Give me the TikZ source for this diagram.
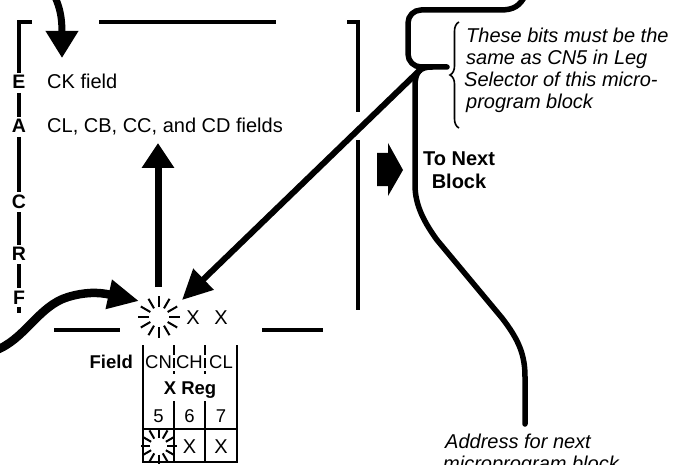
\documentclass[tikz,border=0pt]{standalone}
\usepackage{fontspec}
\setmainfont{Liberation Sans}
\usetikzlibrary{arrows.meta,decorations.pathreplacing}
\tikzset{
  frame/.style={line width=3.5pt},
  tblline/.style={line width=2pt},
  flow/.style={line width=5.5pt, line cap=round, line join=round},
  ray/.style={line width=2pt},
  txt/.style={font=\fontsize{20}{22}\selectfont, inner sep=0pt, anchor=base west},
  itxt/.style={font=\fontsize{20}{22}\selectfont\itshape, inner sep=0pt, anchor=base west},
  btxt/.style={font=\fontsize{20}{22}\selectfont\bfseries, inner sep=0pt, anchor=base},
  ltr/.style={font=\fontsize{19.5}{20}\selectfont\bfseries, inner sep=0pt, anchor=base},
  tbl/.style={font=\fontsize{18.5}{20}\selectfont, inner sep=0pt, anchor=base},
  tblb/.style={font=\fontsize{18.5}{20}\selectfont\bfseries, inner sep=0pt, anchor=base},
  xmark/.style={font=\fontsize{20}{20}\selectfont, inner sep=0pt, anchor=base},
}
\begin{document}
\begin{tikzpicture}[x=1pt,y=-1pt]
\useasboundingbox (0,0) rectangle (679,465);
\clip (0,0) rectangle (679,465);

% ---------- frame (dashed bracket box) ----------
\draw[frame] (32,22) -- (19,22) -- (19,73);
\draw[frame] (19,93) -- (19,117);
\draw[frame] (19,137) -- (19,192);
\draw[frame] (19,212) -- (19,245);
\draw[frame] (19,264) -- (19,288);
\draw[frame] (19,307) -- (19,313);
\draw[frame] (99,22) -- (276,22);
\draw[frame] (347,22) -- (358,22) -- (358,112);
\draw[frame] (358,140) -- (358,310);
\draw[frame] (54,330) -- (120,330);
\draw[frame] (262,330) -- (323,330);

% ---------- side letters ----------
\node[ltr] (lE) at (19,89) {E};
\node[ltr] (lA) at (19,133) {A};
\node[ltr] (lC) at (19,208) {C};
\node[ltr] (lR) at (19,260) {R};
\node[ltr] (lF) at (19,304) {F};

% ---------- texts inside ----------
\node[txt] (ck) at (47,89) {CK field};
\node[txt] (cl) at (47,133) {CL, CB, CC, and CD fields};

% ---------- arrows ----------
\coordinate (topstart) at (55,-3);
\coordinate (cktip) at (62,58);
\draw[line width=7pt, -{Triangle[length=27pt,width=31pt]}]
  (topstart) .. controls (60,8) and (62,18) .. (cktip);

\coordinate (upbase) at (158,287);
\coordinate (uptip) at (158,143);
\draw[line width=7pt, -{Triangle[length=25pt,width=31pt]}] (upbase) -- (uptip);

\coordinate (leftstart) at (-6,351);
\coordinate (lefttip) at (139,301);
\draw[line width=8.5pt, -{Triangle[length=31pt,width=28pt]}]
  (leftstart) .. controls (25,340) and (38,306) .. (68,297)
  .. controls (85,292) and (98,292) .. (lefttip);

\coordinate (junction) at (420,70);
\coordinate (diagtip) at (182,300);
\draw[line width=6pt, -{Triangle[length=30pt,width=28pt]}] (junction) -- (diagtip);

% ---------- burst and X X ----------
\coordinate (burst) at (159,317);
\foreach \a in {0,30,...,330} \draw[ray] (burst) ++(\a:10) -- ++(\a:11);
\node[xmark] (x1) at (193,324) {X};
\node[xmark] (x2) at (221,324) {X};

% ---------- X register table ----------
\draw[tblline] (143,345) -- (143,462) -- (237,462) -- (237,345);
\draw[tblline] (143,429) -- (237,429);
\draw[tblline] (174,401) -- (174,462);
\draw[tblline] (205,401) -- (205,462);
\draw[line width=1.5pt, dash pattern=on 10pt off 3pt] (174,345) -- (174,374);
\draw[line width=1.5pt, dash pattern=on 10pt off 3pt] (205,345) -- (205,374);
\node[tblb, anchor=base east] (field) at (133,368) {Field};
\node[tbl] (cn) at (158.5,368) {CN};
\node[tbl] (ch) at (189.5,368) {CH};
\node[tbl] (clf) at (221,368) {CL};
\node[tblb] (xreg) at (190,394) {X Reg};
\node[tbl] (b5) at (158.5,422) {5};
\node[tbl] (b6) at (189.5,422) {6};
\node[tbl] (b7) at (221,422) {7};
\coordinate (cellburst) at (158.5,446);
\foreach \a in {0,30,...,330} \draw[ray] (cellburst) ++(\a:8.5) -- ++(\a:9.5);
\node[xmark] (c6) at (189.5,453) {X};
\node[xmark] (c7) at (221,453) {X};

% ---------- right side flow line ----------
\draw[flow] (526,-6) .. controls (520,6) and (514,10) .. (500,10)
  [rounded corners=13pt] -- (408,10) -- (408,67) -- (447,67);
\draw[flow] (432,67) .. controls (420,67) and (415,72) .. (415,86)
  -- (415,185) .. controls (415,205) and (424,222) .. (437,240)
  -- (502,318) .. controls (519,340) and (525,355) .. (525,377)
  -- (525,424);

% brace and note
\draw[line width=1.6pt, decorate, decoration={brace, amplitude=9pt}] (459,128) -- (459,22);
\node[itxt] (n1) at (466,43) {These bits must be the};
\node[itxt] (n2) at (466,65) {same as CN5 in Leg};
\node[itxt] (n3) at (464,87) {Selector of this micro-};
\node[itxt] (n4) at (466,109) {program block};

% big block arrow
\fill (377,153) -- (388,153) -- (388,143) -- (403,170) -- (388,196) -- (388,186) -- (377,186) -- cycle;
\node[btxt] (tonext) at (459,165) {To Next};
\node[btxt] (block) at (459,188) {Block};

% bottom note (cut by the lower edge, as in the reference)
\node[itxt] (a1) at (445,448) {Address for next};
\node[itxt] (a2) at (443,470) {microprogram block};
\end{tikzpicture}
\end{document}
